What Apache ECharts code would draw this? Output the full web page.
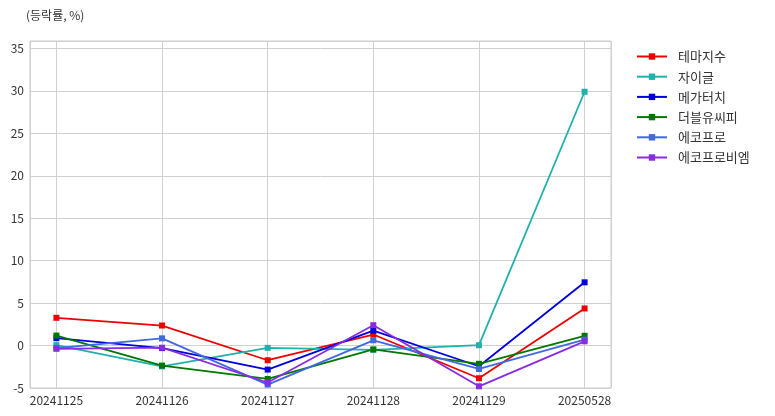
<!DOCTYPE html>
<html><head><meta charset="utf-8">
<script src="https://cdn.jsdelivr.net/npm/echarts@6/dist/echarts.min.js"></script>
<style>html,body{margin:0;padding:0;background:#fff}#c{width:775px;height:416px}</style>
</head><body><div id="c"></div>
<script>
const categories = ['20241125','20241126','20241127','20241128','20241129','20250528'];
const seriesNames = ['테마지수','자이글','메가터치','더블유씨피','에코프로','에코프로비엠'];
const theme = [3.27, 2.36, -1.73, 1.3, -3.85, 4.37];
const zaigle = [0.05, -2.45, -0.27, -0.5, 0.04, 29.9];
const megatouch = [0.87, -0.3, -2.83, 1.75, -2.44, 7.45];
const wcp = [1.18, -2.36, -3.93, -0.45, -2.15, 1.15];
const ecopro = [-0.3, 0.85, -4.6, 0.62, -2.76, 0.7];
const ecoproBM = [-0.38, -0.25, -4.35, 2.4, -4.8, 0.5];
const yTicks = [-5, 0, 5, 10, 15, 20, 25, 30, 35];
const colors = ['#ee0000', '#20b2aa', '#0000dd', '#007800', '#4169e1', '#8a2be2'];
const allValues = [theme, zaigle, megatouch, wcp, ecopro, ecoproBM];

const font = "'Noto Sans CJK KR', 'Noto Sans', sans-serif";
const chart = echarts.init(document.getElementById('c'));
const series = allValues.map((vals, k) => ({
  name: seriesNames[k],
  type: 'line',
  data: vals.map((v, i) => [i, v]),
  symbol: 'rect',
  symbolSize: 6,
  lineStyle: { width: 1.8, color: colors[k] },
  itemStyle: { color: colors[k] },
  emphasis: { disabled: true },
  animation: false
}));
chart.setOption({
  animation: false,
  textStyle: { fontFamily: font },
  title: {
    text: '(등락률, %)', left: 21, top: 4,
    textStyle: { fontSize: 12, fontWeight: 'normal', color: '#333', fontFamily: font }
  },
  legend: {
    orient: 'vertical', left: 631, top: 45, itemGap: 7.2,
    itemWidth: 30, itemHeight: 8,
    textStyle: { fontSize: 13, color: '#333', fontFamily: font, padding: [0, 0, 0, 6] },
    data: seriesNames
  },
  grid: {
    left: 30, right: 164, top: 41, bottom: 28,
    show: true, borderColor: '#cccccc', borderWidth: 1
  },
  xAxis: {
    type: 'value', min: -0.25, max: categories.length - 0.75,
    axisLine: { show: false }, axisTick: { show: false },
    splitLine: { show: true, lineStyle: { color: '#d0d0d0', width: 1 } },
    axisLabel: {
      color: '#333', fontSize: 12, margin: 6, fontFamily: font,
      formatter: v => (Number.isInteger(v) && categories[v]) ? categories[v] : '',
      showMinLabel: false, showMaxLabel: false
    }
  },
  yAxis: {
    type: 'value', min: yTicks[0], max: 29.9 * 1.2, interval: 5,
    axisLine: { show: false }, axisTick: { show: false },
    splitLine: { show: true, lineStyle: { color: '#d0d0d0', width: 1 } },
    axisLabel: {
      color: '#333', fontSize: 12, margin: 6, fontFamily: font,
      formatter: v => yTicks.includes(v) ? String(v) : '',
      showMaxLabel: false
    }
  },
  series: series
});
</script></body></html>
